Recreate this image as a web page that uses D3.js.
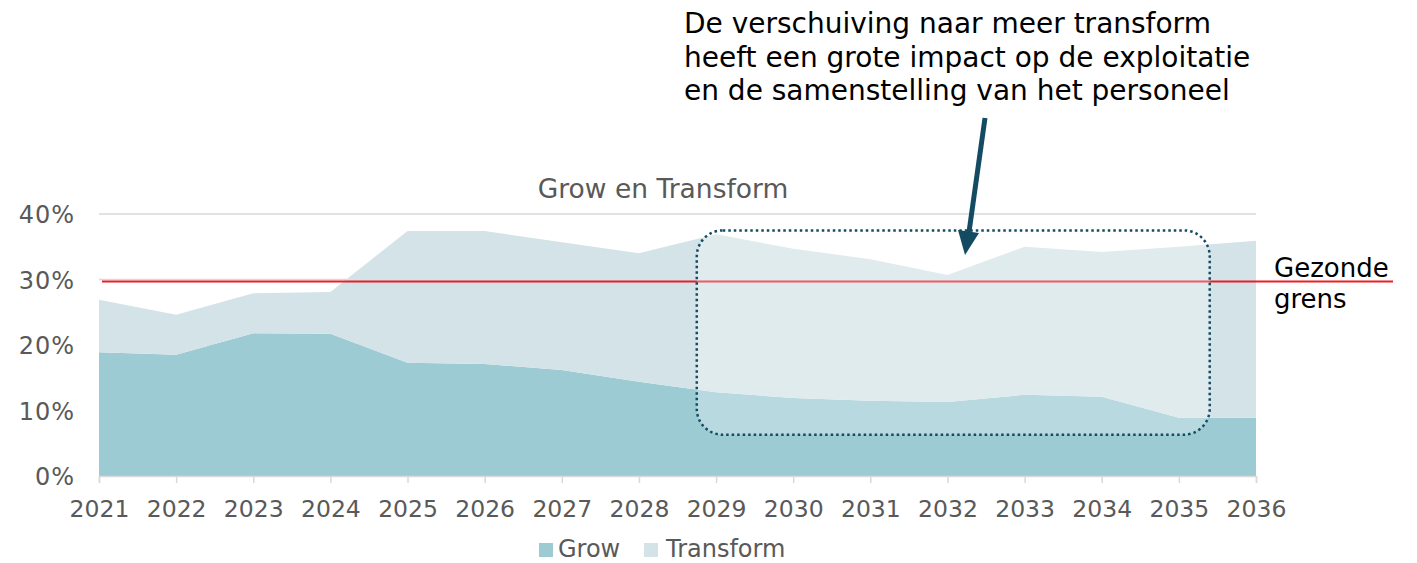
<!DOCTYPE html>
<html>
<head>
<meta charset="utf-8">
<script src="https://cdn.jsdelivr.net/npm/d3@7"></script>
<style>
    body { margin: 0; background: #fff; }
    svg { display: block; font-family: "DejaVu Sans", Verdana, sans-serif; }
</style>
</head>
<body>
<div id="chart"></div>
<script>
/*
 * Chart data.
 */
var years = [2021, 2022, 2023, 2024, 2025, 2026, 2027, 2028, 2029, 2030, 2031, 2032, 2033, 2034, 2035, 2036];
var grow = [18.9, 18.5, 21.8, 21.7, 17.3, 17.1, 16.2, 14.4, 12.8, 11.9, 11.5, 11.3, 12.4, 12.1, 8.9, 8.9];
var transform = [8.0, 6.1, 6.1, 6.4, 20.1, 20.3, 19.5, 19.6, 24.1, 22.8, 21.6, 19.4, 22.6, 22.1, 26.1, 27.0];
var yTicks = [0, 10, 20, 30, 40];
var healthyLimit = 29.7;
var seriesNames = ['Grow', 'Transform'];
var seriesColors = ['#9ccbd3', '#d3e3e7'];
var highlightYears = [2028.75, 2035.4];
var highlightRange = [6.3, 37.5];
var note = [
    'De verschuiving naar meer transform',
    'heeft een grote impact op de exploitatie',
    'en de samenstelling van het personeel'
];

var width = 1417, height = 563;

var svg = d3.select('#chart').append('svg')
    .attr('width', width)
    .attr('height', height);

/*
 * Scales.
 */
var x = d3.scaleLinear().domain([2021, 2036]).range([99, 1256]);
var y = d3.scaleLinear().domain([0, 40]).range([476, 214]);

/*
 * Gridlines.
 */
svg.append('g')
    .selectAll('line')
    .data(yTicks.slice(1))
    .join('line')
    .attr('x1', x(2021)).attr('x2', x(2036))
    .attr('y1', d => y(d)).attr('y2', d => y(d))
    .attr('stroke', '#d9d9d9')
    .attr('stroke-width', 1.5);

/*
 * Stacked areas.
 */
var rows = years.map((yr, i) => ({ year: yr, Grow: grow[i], Transform: transform[i] }));
var stacked = d3.stack().keys(seriesNames)(rows);
var area = d3.area()
    .x(d => x(d.data.year))
    .y0(d => y(d[0]))
    .y1(d => y(d[1]));

svg.append('g')
    .selectAll('path')
    .data(stacked)
    .join('path')
    .attr('d', area)
    .attr('fill', (d, i) => seriesColors[i]);

/*
 * X axis.
 */
var xAxis = svg.append('g')
    .attr('transform', 'translate(0,' + y(0) + ')')
    .call(d3.axisBottom(x).tickValues(years).tickFormat(d3.format('d')).tickSize(7).tickPadding(17));
xAxis.select('.domain').attr('stroke', '#d9d9d9').attr('stroke-width', 1.5);
xAxis.selectAll('.tick line').attr('stroke', '#d9d9d9').attr('stroke-width', 1.5);
xAxis.selectAll('text')
    .attr('fill', '#595959')
    .style('font-size', '23.5px')
    .style('font-family', '"DejaVu Sans", Verdana, sans-serif');

/*
 * Y axis labels.
 */
svg.append('g')
    .selectAll('text')
    .data(yTicks)
    .join('text')
    .attr('x', 75)
    .attr('y', d => y(d) + 9)
    .attr('text-anchor', 'end')
    .attr('fill', '#595959')
    .style('font-size', '24px')
    .style('letter-spacing', '1px')
    .text(d => d + '%');

/*
 * Healthy limit line.
 */
svg.append('line')
    .attr('x1', 102).attr('x2', 1393)
    .attr('y1', y(healthyLimit)).attr('y2', y(healthyLimit))
    .attr('stroke', '#ee1c25')
    .attr('stroke-width', 2);

svg.append('text')
    .attr('fill', '#000')
    .style('font-size', '26px')
    .selectAll('tspan')
    .data(['Gezonde', 'grens'])
    .join('tspan')
    .attr('x', 1274)
    .attr('y', (d, i) => 277 + i * 31)
    .text(d => d);

/*
 * Highlight box.
 */
svg.append('rect')
    .attr('x', x(highlightYears[0]))
    .attr('y', y(highlightRange[1]))
    .attr('width', x(highlightYears[1]) - x(highlightYears[0]))
    .attr('height', y(highlightRange[0]) - y(highlightRange[1]))
    .attr('rx', 26)
    .attr('fill', '#fff')
    .attr('fill-opacity', 0.28)
    .attr('stroke', '#134b63')
    .attr('stroke-width', 2.5)
    .attr('stroke-dasharray', '2.5 3');

/*
 * Chart title.
 */
svg.append('text')
    .attr('x', 663)
    .attr('y', 198)
    .attr('text-anchor', 'middle')
    .attr('fill', '#595959')
    .style('font-size', '26.5px')
    .text('Grow en Transform');

/*
 * Annotation.
 */
svg.append('text')
    .attr('fill', '#000')
    .style('font-size', '28px')
    .selectAll('tspan')
    .data(note)
    .join('tspan')
    .attr('x', 684)
    .attr('y', (d, i) => 33 + i * 33.5)
    .text(d => d);

svg.append('line')
    .attr('x1', 985).attr('y1', 118)
    .attr('x2', 969).attr('y2', 232)
    .attr('stroke', '#134b63')
    .attr('stroke-width', 5);

svg.append('path')
    .attr('d', 'M' + 958 + ',' + 230 + 'L' + 979 + ',' + 233 + 'L' + 965 + ',' + 255 + 'Z')
    .attr('fill', '#134b63');

/*
 * Legend.
 */
var legend = svg.append('g')
    .selectAll('g')
    .data(seriesNames)
    .join('g')
    .attr('transform', (d, i) => 'translate(' + [539, 644][i] + ',543)');

legend.append('rect')
    .attr('width', 14)
    .attr('height', 14)
    .attr('fill', (d, i) => seriesColors[i]);

legend.append('text')
    .attr('x', (d, i) => [19, 22][i])
    .attr('y', 14)
    .attr('fill', '#595959')
    .style('font-size', '24px')
    .text(d => d);
</script>
</body>
</html>
